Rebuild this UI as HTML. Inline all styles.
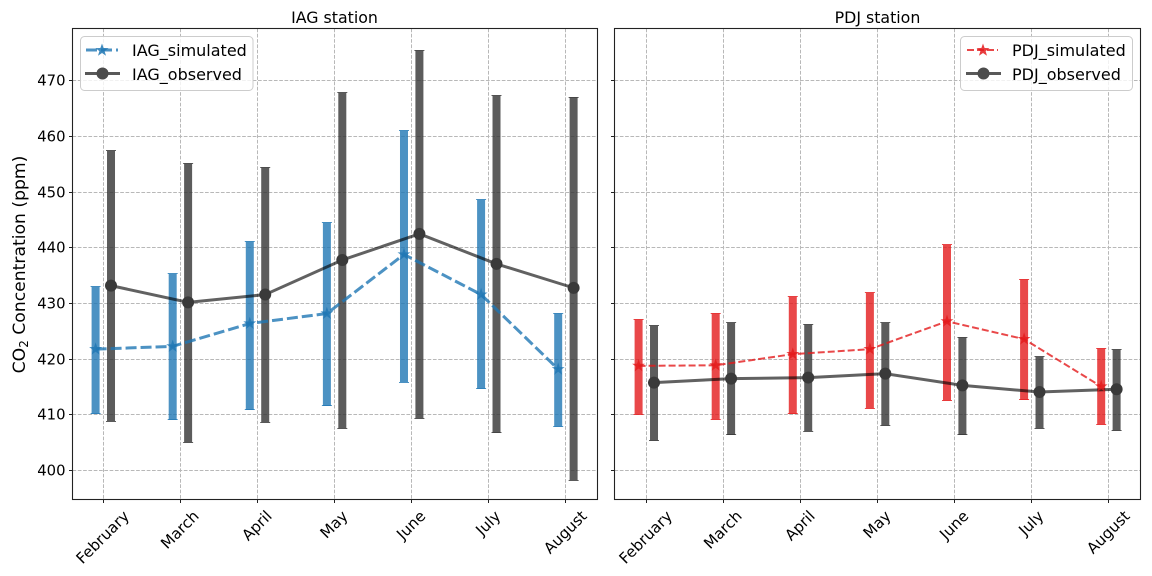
<!DOCTYPE html>
<html>
<head>
<meta charset="utf-8">
<title>CO2 Concentration: IAG and PDJ stations</title>
<style>
html,body{margin:0;padding:0;background:#fff;width:1152px;height:576px;overflow:hidden}
svg{display:block;font-family:"DejaVu Sans","Liberation Sans",sans-serif;fill:#000}
</style>
</head>
<body>
<svg id="chart" width="1152" height="576" viewBox="0 0 1152 576" xmlns="http://www.w3.org/2000/svg">
  <rect width="1152" height="576" fill="#fff"/>
  <g id="panel-left"></g>
  <g id="panel-right"></g>
  <text x="334.5" y="23" font-size="15.8" text-anchor="middle">IAG station</text>
  <text x="877.5" y="23" font-size="15.8" text-anchor="middle">PDJ station</text>
  <text transform="translate(25,264.5) rotate(-90)" font-size="17.2" text-anchor="middle">CO<tspan font-size="12" dy="3">2</tspan><tspan dy="-3"> Concentration (ppm)</tspan></text>

  <g>
    <rect x="80.5" y="36.5" width="172.5" height="54" rx="4" fill="#fff" fill-opacity="0.8" stroke="#ccc"/>
    <line x1="86" y1="50" x2="118" y2="50" stroke="#1f77b4" stroke-opacity="0.8" stroke-width="3" stroke-dasharray="11 4"/>
    <polygon points="102,43.5 103.6,48 108.5,48.1 104.6,51.1 106,55.8 102,53 98,55.8 99.4,51.1 95.5,48.1 100.4,48" fill="#1f77b4" fill-opacity="0.85"/>
    <text x="132" y="56" font-size="16">IAG_simulated</text>
    <line x1="85" y1="73.5" x2="120" y2="73.5" stroke="#000" stroke-opacity="0.65" stroke-width="3"/>
    <circle cx="102.5" cy="73.5" r="6" fill="#4c4c4c"/>
    <text x="132" y="80" font-size="16">IAG_observed</text>
  </g>

  <g>
    <rect x="960.5" y="36.5" width="172" height="54" rx="4" fill="#fff" fill-opacity="0.8" stroke="#ccc"/>
    <line x1="967" y1="50" x2="998" y2="50" stroke="#e41a1c" stroke-opacity="0.8" stroke-width="2" stroke-dasharray="7 3"/>
    <polygon points="983,43.5 984.6,48 989.5,48.1 985.6,51.1 987,55.8 983,53 979,55.8 980.4,51.1 976.5,48.1 981.4,48" fill="#e41a1c" fill-opacity="0.85"/>
    <text x="1012" y="56" font-size="16">PDJ_simulated</text>
    <line x1="966" y1="73.5" x2="1001" y2="73.5" stroke="#000" stroke-opacity="0.65" stroke-width="3"/>
    <circle cx="983.5" cy="73.5" r="6" fill="#4c4c4c"/>
    <text x="1012" y="80" font-size="16">PDJ_observed</text>
  </g>
</svg>
<script>
const months = ['February','March','April','May','June','July','August'];
const yTicks = [400,410,420,430,440,450,460,470];

const iagSimMean = [421.8,422.3,426.4,428.2,438.8,431.6,418.2];
const iagSimLow  = [410.2,409.1,410.9,411.6,415.9,414.7,407.9];
const iagSimHigh = [433.0,435.3,441.1,444.5,461.0,448.6,428.2];
const iagObsMean = [433.2,430.2,431.6,437.8,442.5,437.1,432.8];
const iagObsLow  = [408.9,405.1,408.7,407.6,409.4,406.8,398.3];
const iagObsHigh = [457.4,455.1,454.4,467.8,475.4,467.3,467.0];

const pdjSimMean = [418.8,418.9,420.9,421.8,426.8,423.6,415.1];
const pdjSimLow  = [410.1,409.2,410.2,411.2,412.6,412.7,408.3];
const pdjSimHigh = [427.1,428.2,431.2,431.9,440.5,434.3,421.9];
const pdjObsMean = [415.8,416.5,416.7,417.4,415.3,414.1,414.6];
const pdjObsLow  = [405.4,406.4,407.1,408.1,406.4,407.6,407.2];
const pdjObsHigh = [426.0,426.5,426.2,426.5,423.9,420.4,421.7];

const NS = 'http://www.w3.org/2000/svg';
const TOP = 28.5, BOTTOM = 499.5;
const yScale = v => 470.6 - (v - 400) * 5.571;
const snap = p => Math.floor(p) + 0.5;

function make(parent, tag, attrs) {
  const el = document.createElementNS(NS, tag);
  for (const k in attrs) el.setAttribute(k, attrs[k]);
  parent.appendChild(el);
  return el;
}

function starPoints(cx, cy, R) {
  const pts = [];
  for (let i = 0; i < 10; i++) {
    const r = i % 2 ? R * 0.382 : R;
    const a = -Math.PI / 2 + i * Math.PI / 5;
    pts.push((cx + r * Math.cos(a)).toFixed(2) + ',' + (cy + r * Math.sin(a)).toFixed(2));
  }
  return pts.join(' ');
}

function drawRange(g, x, low, high, color, prefix) {
  const bar = make(g, 'rect', {x: x - 4, y: yScale(high), width: 8, height: yScale(low) - yScale(high), fill: color, 'fill-opacity': 0.8});
  
  
  [low, high].forEach(v => {
    const y = snap(yScale(v));
    const cap = make(g, 'line', {x1: x - 5, x2: x + 5, y1: y, y2: y, stroke: color, 'stroke-opacity': 0.8, 'stroke-width': 1});
    
    
  });
}

function drawPanel(id, left, right, tick0, step, simColor, simWidth, dash, prefix, showLabels, sim, simLow, simHigh, obs, obsLow, obsHigh) {
  const g = document.getElementById(id);
  const xScale = i => tick0 + i * step;
  const off = step * 0.1;

  yTicks.forEach(v => {
    const y = snap(yScale(v));
    const gl = make(g, 'line', {x1: left, x2: right, y1: y, y2: y, stroke: '#b8b8b8', 'stroke-width': 1, 'stroke-dasharray': '3.7 1.6'});
    
    
    const t = make(g, 'line', {x1: left - 3.5, x2: left, y1: y, y2: y, stroke: '#222', 'stroke-width': 1});
    
    
    if (showLabels) {
      const lab = make(g, 'text', {x: left - 7, y: y + 5, 'font-size': 14.8, 'text-anchor': 'end'});
      
      
      lab.textContent = v;
    }
  });

  months.forEach((m, i) => {
    const x = snap(xScale(i));
    const gl = make(g, 'line', {x1: x, x2: x, y1: TOP, y2: BOTTOM, stroke: '#b8b8b8', 'stroke-width': 1, 'stroke-dasharray': '3.7 1.6'});
    
    
    const t = make(g, 'line', {x1: x, x2: x, y1: BOTTOM, y2: BOTTOM + 3.5, stroke: '#222', 'stroke-width': 1});
    
    
    const lab = make(g, 'text', {'font-size': 15.2, 'text-anchor': 'middle', 'dominant-baseline': 'central'});
    
    
    lab.textContent = m;
    const w = lab.getComputedTextLength();
    const cy = BOTTOM + 9 + (w + 14) * Math.SQRT1_2 / 2;
    lab.setAttribute('transform', 'translate(' + (xScale(i) - 0.5) + ',' + cy + ') rotate(-45)');
  });

  months.forEach((m, i) => {
    drawRange(g, xScale(i) - off, simLow[i], simHigh[i], simColor, prefix + '-simulated');
    drawRange(g, xScale(i) + off, obsLow[i], obsHigh[i], '#333333', prefix + '-observed');
  });

  const simLine = make(g, 'polyline', {points: sim.map((v, i) => (xScale(i) - off) + ',' + yScale(v)).join(' '), fill: 'none', stroke: simColor, 'stroke-opacity': 0.8, 'stroke-width': simWidth, 'stroke-dasharray': dash});
  
  
  const obsLine = make(g, 'polyline', {points: obs.map((v, i) => (xScale(i) + off) + ',' + yScale(v)).join(' '), fill: 'none', stroke: '#000', 'stroke-opacity': 0.62, 'stroke-width': 3});
  
  

  sim.forEach((v, i) => {
    const s = make(g, 'polygon', {points: starPoints(xScale(i) - off, yScale(v), 6.8), fill: simColor, 'fill-opacity': 0.8});
    
    
  });
  obs.forEach((v, i) => {
    const c = make(g, 'circle', {cx: xScale(i) + off, cy: yScale(v), r: 6, fill: '#3a3a3a'});
    
    
  });

  const frame = make(g, 'rect', {x: left, y: TOP, width: right - left, height: BOTTOM - TOP, fill: 'none', stroke: '#222', 'stroke-width': 1.1});
  
  
}

drawPanel('panel-left', 72.5, 597.5, 103.3, 77.1, '#1f77b4', 3, '11 4', 'iag', true,
  iagSimMean, iagSimLow, iagSimHigh, iagObsMean, iagObsLow, iagObsHigh);
drawPanel('panel-right', 614.5, 1140.5, 646.3, 77.1, '#e41a1c', 2, '7 3', 'pdj', false,
  pdjSimMean, pdjSimLow, pdjSimHigh, pdjObsMean, pdjObsLow, pdjObsHigh);
</script>
</body>
</html>
